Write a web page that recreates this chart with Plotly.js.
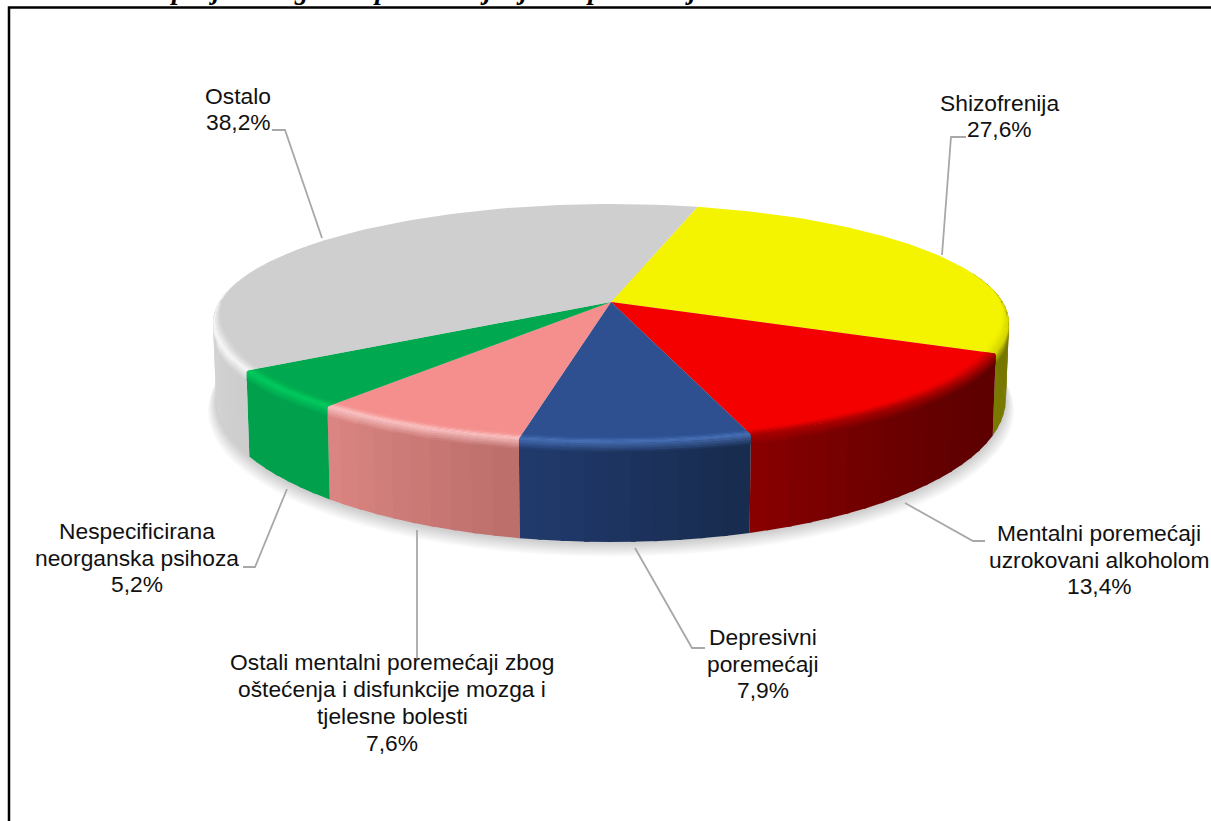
<!DOCTYPE html>
<html>
<head>
<meta charset="utf-8">
<script src="https://cdn.plot.ly/plotly-3.0.1.min.js"></script>
<style>html,body{margin:0;padding:0;background:#fff;overflow:hidden}#chart{width:1211px;height:821px}</style>
</head>
<body>
<div id="chart"></div>
<script>
// ---- data ----
const categories = [
  "Shizofrenija",
  "Mentalni poremećaji<br>uzrokovani alkoholom",
  "Depresivni<br>poremećaji",
  "Ostali mentalni poremećaji zbog<br>oštećenja i disfunkcije mozga i<br>tjelesne bolesti",
  "Nespecificirana<br>neorganska psihoza",
  "Ostalo"
];
const values = [27.6, 13.4, 7.9, 7.6, 5.2, 38.2];
const clippedHeading = "Raspodjela na glavne prema trajanju hospitalizacija";

// ---- styles ----
const faceColors  = ["#F4F400", "#F40000", "#2E5090", "#F48F8E", "#00A94F", "#CFCFCF"];
const rimColors   = ["#D8D800", "#B00000", "#4872B8", "#FBC4C4", "#00CC60", "#F7F7F7"];
const sideStart   = ["#6E6E00", "#5E0000", "#182B4E", "#BB6E6B", "#00A04C", "#CBCBCB"];
const sideEnd     = ["#7A7A00", "#8C0000", "#213B6E", "#DC8682", "#00A04C", "#CBCBCB"];

// ---- label placement (page px via hidden axes) ----
const labelPos = [[999,116],[1099,559.5],[763,663.5],[392,702.5],[137,557.5],[238,109]];
const LINE_GAP = 26.8;
const leaders = [
  [[966,137],[951,137],[942,255]],
  [[905,503],[973,541],[985,541]],
  [[635,548],[692,648],[705,648]],
  [[417,530],[417,660]],
  [[287,489],[255,567],[243,567]],
  [[272,130],[285,130],[322,238]]
];

// ---- projection of the tilted disc ----
const cx = 611, cy = 302, R = 391.8, H = 115.3, K = 0.1765, START = 15.0;
const DEPTH = 72, SX = 0.992, SY = 1.2;
const rad = d => d * Math.PI / 180;
function topPt(a, r) {
  const u = r * Math.sin(rad(a)), v = r * Math.cos(rad(a)), w = 1 + K * v;
  return [cx + R * u / w, cy - H * v / w];
}
function bottomPt(a, scale, extra) {
  const p = topPt(a, 1);
  return [cx + (p[0] - cx) * SX * scale, cy + DEPTH + extra + (p[1] - cy) * SY * scale];
}
function hex(c){return [1,3,5].map(i=>parseInt(c.substr(i,2),16));}
function mix(c1,c2,t){const a=hex(c1),b=hex(c2);return "rgb("+a.map((x,i)=>Math.round(x+(b[i]-x)*t)).join(",")+")";}
function mixHex(c1,c2,t){const a=hex(c1),b=hex(c2);return "#"+a.map((x,i)=>Math.round(x+(b[i]-x)*t).toString(16).padStart(2,"0")).join("");}
function poly(pts, color) {
  return {type:"scatter",mode:"lines",x:pts.map(p=>p[0]),y:pts.map(p=>p[1]),fill:"toself",fillcolor:color,
    line:{color:"rgba(0,0,0,0)",width:0},hoverinfo:"skip",showlegend:false};
}
function steps(a0,a1,st){const out=[];const n=Math.max(1,Math.ceil((a1-a0)/st));for(let i=0;i<=n;i++)out.push(a0+(a1-a0)*i/n);return out;}

const total = values.reduce((s,v)=>s+v,0);
let cur = START;
const slices = values.map(v=>{const a0=cur;cur+=v/total*360;return [a0,cur];});

const traces = [];
// soft shadow under the disc
for (let i = 12; i >= 1; i--) {
  const pts = steps(0,360,4).map(a=>bottomPt(a,1+i*0.0018,1+i*0.85));
  traces.push(poly(pts,"rgba(0,0,0,0.017)"));
}
function sideColor(i,t){
  if(i===5){ // grey wall is lightest on the far left
    const a=slices[5][0]+t*(slices[5][1]-slices[5][0]);
    const f=Math.max(0,1-Math.abs(a-285)/50);
    return mixHex("#CBCBCB","#E0E0E0",f);
  }
  return mixHex(sideStart[i],sideEnd[i],i===1?t*t:t);
}
// side wall stripes: each one overlaps the next so no seams show
slices.forEach((s,i)=>{
  const a0=Math.max(s[0],75), a1=Math.min(s[1],305);
  if(a1<=a0) return;
  const an=steps(a0,a1,3);
  for(let k=an.length-2;k>=0;k--){
    const A=an[k],B=an[k+1],t=((A+B)/2-s[0])/(s[1]-s[0]);
    const C=Math.min(a1,B+0.6);
    traces.push(poly([topPt(A,1),topPt(C,1),bottomPt(C,1,0),bottomPt(A,1,0)],sideColor(i,t)));
  }
});
// flat top faces
slices.forEach((s,i)=>{
  const pts=[[cx,cy]].concat(steps(s[0],s[1],1.5).map(a=>topPt(a,1)));
  traces.push(poly(pts,faceColors[i]));
});
// bevel along the front rim
const fade=a=>Math.min(1,Math.max(0,(-Math.cos(rad(a))+0.12)/0.45));
const BANDS=9, RIM_R=0.03, RIM_D=10;
function rimPoint(a,p){
  const f=fade(a);
  if(p<=0.5) return topPt(a,1-RIM_R*f*(1-p/0.5));
  const q=topPt(a,1);
  return [q[0],q[1]+RIM_D*f*(p-0.5)/0.5];
}
slices.forEach((s,i)=>{
  const a0=Math.max(s[0],84), a1=Math.min(s[1],306);
  if(a1<=a0) return;
  const an=steps(a0,a1,6);
  for(let k=an.length-2;k>=0;k--){
    const A=an[k],B=an[k+1],t=((A+B)/2-s[0])/(s[1]-s[0]);
    const sc=sideColor(i,t);
    const C=Math.min(a1,B+0.4);
    for(let b=BANDS-1;b>=0;b--){
      const p0=b/BANDS,p1=(b+1.15)/BANDS,pm=(b+0.5)/BANDS;
      const col=pm<0.42?mix(faceColors[i],rimColors[i],pm/0.42):mix(rimColors[i],sc,(pm-0.42)/0.58);
      const fine=steps(A,C,1.5);
      const pts=fine.map(a=>rimPoint(a,p0)).concat(fine.slice().reverse().map(a=>rimPoint(a,Math.min(1,p1))));
      traces.push(poly(pts,col));
    }
  }
});

const annotations = [];
categories.forEach((c,i)=>{
  const lines=(c+"<br>"+values[i].toFixed(1).replace(".",",")+"%").split("<br>");
  lines.forEach((ln,j)=>annotations.push({
    x:labelPos[i][0],y:labelPos[i][1]+(j-(lines.length-1)/2)*LINE_GAP,xref:"x",yref:"y",
    xanchor:"center",yanchor:"middle",align:"center",showarrow:false,text:ln,
    font:{family:"Liberation Sans, Arial, sans-serif",size:22.8,color:"#111111"}
  }));
});
annotations.push({x:712,y:7,xref:"x",yref:"y",xanchor:"right",yanchor:"bottom",showarrow:false,
  text:"<b><i>"+clippedHeading+"</i></b>",font:{family:"Liberation Serif, serif",size:27,color:"#000"}});

const shapes = leaders.map(l=>({type:"path",xref:"x",yref:"y",
  path:l.map((p,i)=>(i?"L":"M")+p[0]+" "+p[1]).join(" "),line:{color:"#A8A8A8",width:1.8}}));
shapes.push({type:"rect",xref:"x",yref:"y",x0:9,y0:7.5,x1:1240,y1:860,line:{color:"#000",width:2.5},fillcolor:"rgba(0,0,0,0)"});

Plotly.newPlot("chart",traces,{
  width:1211,height:821,margin:{l:0,r:0,t:0,b:0,pad:0},paper_bgcolor:"#fff",plot_bgcolor:"#fff",showlegend:false,
  hovermode:false,
  xaxis:{range:[0,1211],visible:false,fixedrange:true},
  yaxis:{range:[821,0],visible:false,fixedrange:true},
  annotations:annotations,shapes:shapes
},{displayModeBar:false,staticPlot:true});
</script>
</body>
</html>
